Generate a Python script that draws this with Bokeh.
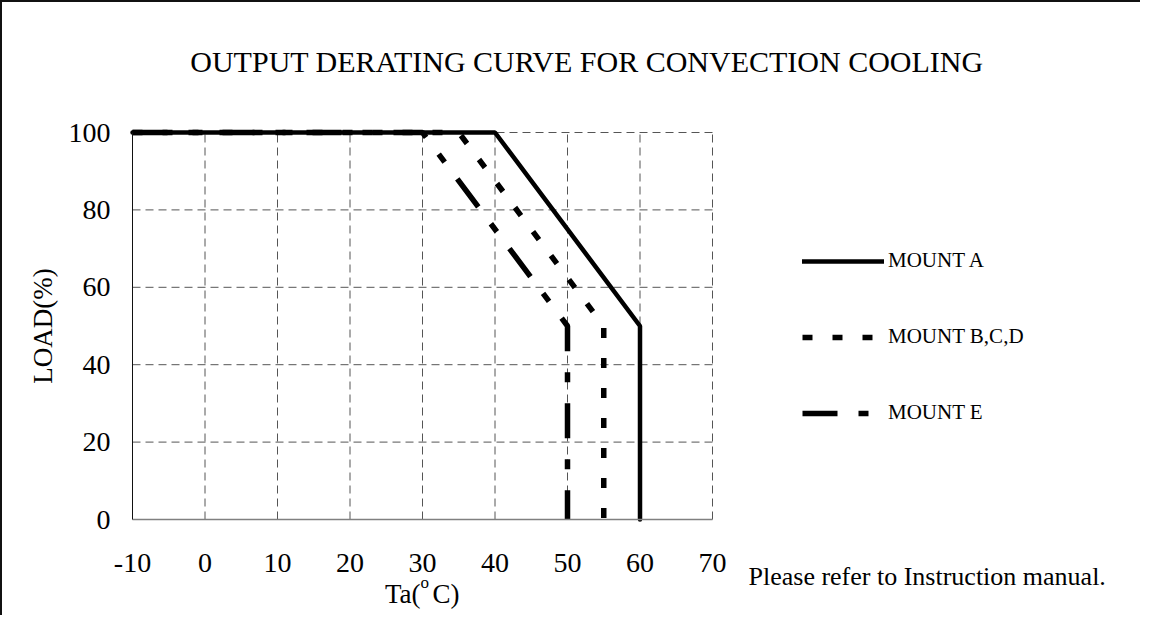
from bokeh.plotting import figure
from bokeh.models import FixedTicker, Label
from bokeh.embed import file_html
from bokeh.resources import INLINE

# ---------------- data ----------------
x_ticks = [-10, 0, 10, 20, 30, 40, 50, 60, 70]
x_tick_labels = ["-10", "0", "10", "20", "30", "40", "50", "60", "70"]
y_ticks = [0, 20, 40, 60, 80, 100]
y_tick_labels = ["0", "20", "40", "60", "80", "100"]

mount_a_x = [-10, 40, 60, 60]
mount_a_y = [100, 100, 50, 0]
mount_bcd_x = [-10, 35, 55, 55]
mount_bcd_y = [100, 100, 50, 0]
mount_e_x = [-10, 30, 50, 50]
mount_e_y = [100, 100, 50, 0]

series_labels = ["MOUNT A", "MOUNT B,C,D", "MOUNT E"]
title_text = "OUTPUT DERATING CURVE FOR CONVECTION COOLING"
y_label = "LOAD(%)"
note_text = "Please refer to Instruction manual."

# ---------------- layout (page pixels) ----------------
SERIF = "Liberation Serif"
OX, OY = 2, 2            # page offset of the canvas
W, H = 1140, 615         # canvas size
PL, PR, PT, PB = 132, 712, 132, 519   # plot area in page pixels
LABEL_SHIFT = -9         # empirical baseline correction for labels
X0, X1 = x_ticks[0], x_ticks[-1]
Y0, Y1 = y_ticks[0], y_ticks[-1]
SX = (PR - PL) / (X1 - X0)
SY = (PB - PT) / (Y1 - Y0)
xa = X0 - (PL - OX) / SX
xb = xa + W / SX
yb = Y1 + (PT - OY) / SY
ya = yb - H / SY


def dx(px):
    return X0 + (px - PL) / SX


def dy(py):
    return Y0 + (PB - py) / SY


p = figure(width=W, height=H, x_range=(xa, xb), y_range=(ya, yb),
           output_backend="svg", toolbar_location=None, title=None,
           min_border=0, background_fill_color="white",
           border_fill_color="white")
p.styles = {"border-left": "2px solid #111", "border-top": "2px solid #111"}
p.outline_line_color = None
p.grid.visible = False

# dashed grid lines limited to the plot area
gx = x_ticks[1:]
gy = y_ticks[1:]
p.segment(x0=gx, y0=[Y0] * len(gx), x1=gx, y1=[Y1] * len(gx),
          line_color="#555555", line_width=1, line_dash="8 5")
p.segment(x0=[X0] * len(gy), y0=gy, x1=[X1] * len(gy), y1=gy,
          line_color="#555555", line_width=1, line_dash="8 5")

# axes fixed at the plot-area edges
p.xaxis.fixed_location = Y0
p.yaxis.fixed_location = X0
p.xaxis.bounds = (X0, X1)
p.yaxis.bounds = (Y0, Y1)
p.xaxis.ticker = FixedTicker(ticks=x_ticks)
p.yaxis.ticker = FixedTicker(ticks=y_ticks)
p.xaxis.major_label_overrides = dict(zip(x_ticks, x_tick_labels))
p.yaxis.major_label_overrides = dict(zip(y_ticks, y_tick_labels))

for ax in (p.xaxis, p.yaxis):
    ax.major_tick_line_color = None
    ax.minor_tick_line_color = None
    ax.major_label_text_font = SERIF
    ax.major_label_text_font_size = "28px"
    ax.major_label_text_color = "black"
p.xaxis.axis_line_color = "#808080"
p.xaxis.axis_line_width = 1.5
p.yaxis.axis_line_color = "#111111"
p.yaxis.axis_line_width = 1
p.xaxis.major_label_standoff = 28
p.yaxis.major_label_standoff = 16
p.yaxis.axis_label = y_label
p.yaxis.axis_label_text_font = SERIF
p.yaxis.axis_label_text_font_size = "27px"
p.yaxis.axis_label_text_font_style = "normal"
p.yaxis.axis_label_text_color = "black"
p.yaxis.axis_label_standoff = 8

# curves
p.line(mount_a_x, mount_a_y, line_color="black", line_width=4.5,
       line_cap="round", legend_label=series_labels[0])
p.line(mount_bcd_x, mount_bcd_y, line_color="black", line_width=5.5,
       line_dash="10 20", legend_label=series_labels[1])
p.line(mount_e_x, mount_e_y, line_color="black", line_width=5.5,
       line_dash="35 21 10 21", legend_label=series_labels[2])

lg = p.legend[0]
lg.location = (802 - OX, OY + H - 425)
lg.padding = 0
lg.margin = 0
lg.border_line_color = None
lg.background_fill_alpha = 0
lg.glyph_width = 82
lg.glyph_height = 24
lg.label_height = 24
lg.spacing = 51
lg.label_standoff = 4
lg.label_text_font = SERIF
lg.label_text_font_size = "21px"
lg.label_text_color = "black"


def add_text(txt, px, py, size, align="left"):
    p.add_layout(Label(x=dx(px), y=dy(py + LABEL_SHIFT), text=txt,
                       text_font=SERIF, text_font_size=size,
                       text_align=align, text_baseline="alphabetic",
                       text_color="black"))


add_text(title_text, 586.5, 70, "30px", align="center")
add_text("Ta(", 420, 602, "27px", align="right")
add_text("o", 420, 591, "17px")
add_text("C)", 432, 602, "27px")
add_text(note_text, 748, 585, "26px")

open("out.html", "w").write(file_html(p, INLINE))
